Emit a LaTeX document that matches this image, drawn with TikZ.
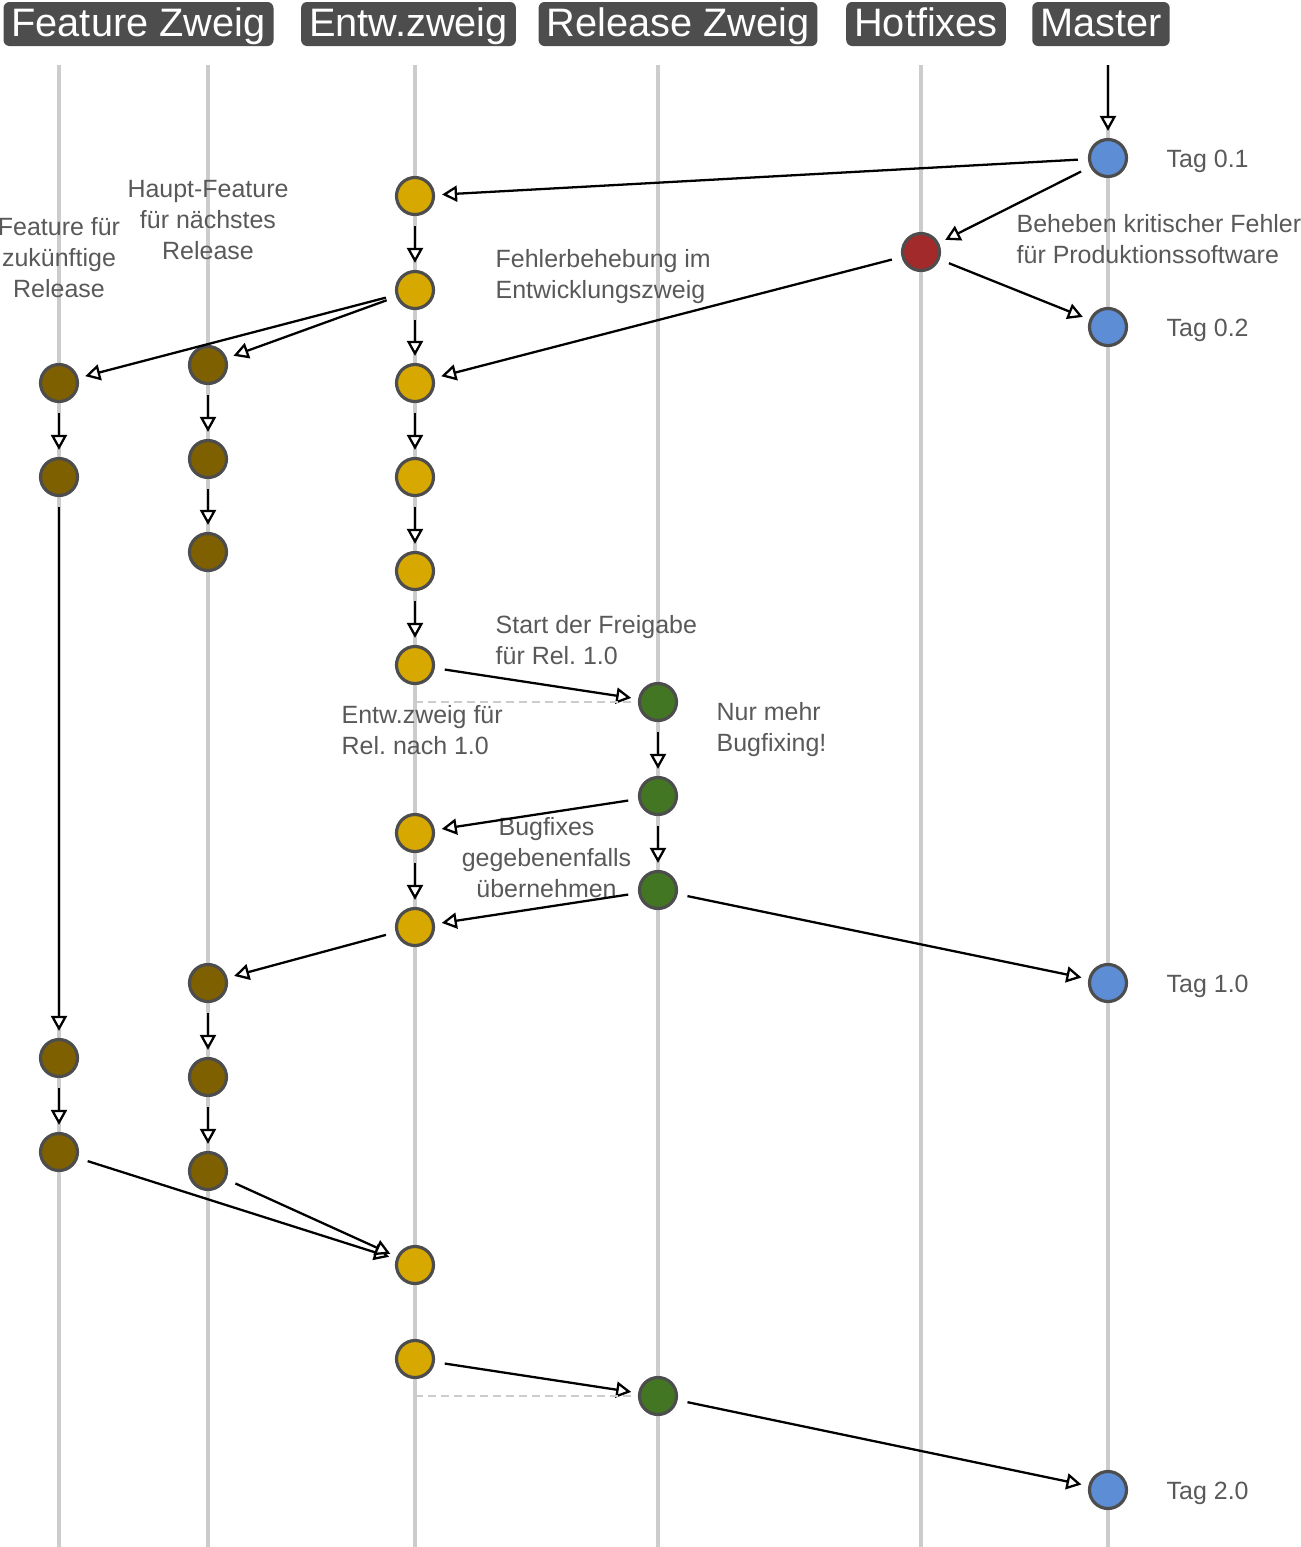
\documentclass[tikz,border=0pt]{standalone}
\usepackage{fontspec}
\setmainfont{Liberation Sans}
\usetikzlibrary{arrows.meta, positioning, calc}

\definecolor{hdrgray}{RGB}{77,77,77}
\definecolor{lanegray}{RGB}{204,204,204}
\definecolor{ringgray}{RGB}{77,77,77}
\definecolor{notegray}{RGB}{89,89,89}
\definecolor{devyellow}{RGB}{214,168,0}
\definecolor{featbrown}{RGB}{127,96,0}
\definecolor{relgreen}{RGB}{67,118,35}
\definecolor{hotred}{RGB}{163,42,42}
\definecolor{mastblue}{RGB}{93,141,213}

\begin{document}
\frenchspacing
\begin{tikzpicture}[x=0.01cm, y=-0.01cm]
    \tikzstyle{header} = [fill=hdrgray, text=white, rounded corners=0.06cm, text height=0.305cm, text depth=0.065cm, inner xsep=0.08cm, inner ysep=0.035cm, font=\fontsize{11.3}{13}\selectfont]
    \tikzstyle{lane} = [draw=lanegray, line width=0.9pt]
    \tikzstyle{commit} = [draw=ringgray, circle, line width=0.9pt, minimum size=0.37cm, inner sep=0pt]
    \tikzstyle{dev} = [commit, fill=devyellow]
    \tikzstyle{feat} = [commit, fill=featbrown]
    \tikzstyle{rel} = [commit, fill=relgreen]
    \tikzstyle{hotfix} = [commit, fill=hotred]
    \tikzstyle{master} = [commit, fill=mastblue]
    \tikzstyle{note} = [text=notegray, font=\fontsize{7.1}{8.8}\selectfont, inner sep=0pt]
    \tikzstyle{flow} = [-{Triangle[length=0.15cm, width=0.16cm, fill=white]}, line width=0.65pt, shorten <=0.1cm, shorten >=0.07cm]
    \tikzstyle{branchoff} = [draw=lanegray, line width=0.75pt, dash pattern=on 0.08cm off 0.05cm, shorten >=0.03cm]

    \useasboundingbox (0,0) rectangle (1301,1547);

    % lane headers
    \node[header] (hfeat) at (138.5,24) {Feature Zweig};
    \node[header] (hdev) at (408.5,24) {Entw.zweig};
    \node[header] (hrel) at (678,24) {Release Zweig};
    \node[header] (hhot) at (926,24) {Hotfixes};
    \node[header] (hmast) at (1101,24) {Master};

    % lanes
    \foreach \x in {59,208,415,658,921,1108}
        \draw[lane] (\x,65) -- (\x,1547);

    % master
    \coordinate (mtop) at (1108,65);
    \node[master] (m1) at (1108,158) {};
    \node[master] (m2) at (1108,327) {};
    \node[master] (m3) at (1108,983) {};
    \node[master] (m4) at (1108,1490) {};

    % hotfix
    \node[hotfix] (hf) at (921,252) {};

    % development
    \node[dev] (d1) at (415,196) {};
    \node[dev] (d2) at (415,290) {};
    \node[dev] (d3) at (415,383) {};
    \node[dev] (d4) at (415,477) {};
    \node[dev] (d5) at (415,571) {};
    \node[dev] (d6) at (415,665) {};
    \node[dev] (d7) at (415,833) {};
    \node[dev] (d8) at (415,927) {};
    \node[dev] (d9) at (415,1265) {};
    \node[dev] (d10) at (415,1359) {};

    % release
    \node[rel] (r1) at (658,702) {};
    \node[rel] (r2) at (658,796) {};
    \node[rel] (r3) at (658,890) {};
    \node[rel] (r4) at (658,1396) {};

    % features
    \node[feat] (fa1) at (59,383) {};
    \node[feat] (fa2) at (59,477) {};
    \node[feat] (fa3) at (59,1058) {};
    \node[feat] (fa4) at (59,1152) {};
    \node[feat] (fb1) at (208,365) {};
    \node[feat] (fb2) at (208,459) {};
    \node[feat] (fb3) at (208,552) {};
    \node[feat] (fb4) at (208,983) {};
    \node[feat] (fb5) at (208,1077) {};
    \node[feat] (fb6) at (208,1171) {};

    % labels
    \node[note, anchor=west] (t01) at (1166,161) {Tag 0.1};
    \node[note, anchor=west] (t02) at (1166,330) {Tag 0.2};
    \node[note, anchor=west] (t10) at (1166,986) {Tag 1.0};
    \node[note, anchor=west] (t20) at (1166,1493) {Tag 2.0};
    \node[note, align=center] (lhaupt) at (208,220) {Haupt-Feature\\für nächstes\\Release};
    \node[note, align=center] (lfuture) at (59,258) {Feature für\\zukünftige\\Release};
    \node[note, align=left, anchor=west] (lhotfix) at (1016,239) {Beheben kritischer Fehler\\für Produktionssoftware};
    \node[note, align=left, anchor=west] (lbugdev) at (495,277) {Fehlerbehebung im\\Entwicklungszweig};
    \node[note, align=left, anchor=west] (lstart) at (495,640) {Start der Freigabe\\für Rel. 1.0};
    \node[note, align=left, anchor=west] (lnext) at (341,730) {Entw.zweig für\\Rel. nach 1.0};
    \node[note, align=left, anchor=west] (lonly) at (716,730) {Nur mehr\\Bugfixing!};
    \node[note, align=center] (ltake) at (546.5,858) {Bugfixes\\gegebenenfalls\\übernehmen};

    % merges and branches
    \draw[flow, shorten <=0pt] (mtop) -- (m1);
    \draw[flow] (m1) -- (d1);
    \draw[flow] (m1) -- (hf);
    \draw[flow] (hf) -- (m2);
    \draw[flow] (hf) -- (d3);
    \draw[flow] (d1) -- (d2);
    \draw[flow] (d2) -- (d3);
    \draw[flow] (d3) -- (d4);
    \draw[flow] (d4) -- (d5);
    \draw[flow] (d5) -- (d6);
    \draw[flow] (d2) -- (fa1);
    \draw[flow] (d2) -- (fb1);
    \draw[flow] (fa1) -- (fa2);
    \draw[flow] (fb1) -- (fb2);
    \draw[flow] (fb2) -- (fb3);
    \draw[flow] (d6) -- (r1);
    \draw[branchoff] (d6 |- r1) -- (r1);
    \draw[flow] (r1) -- (r2);
    \draw[flow] (r2) -- (r3);
    \draw[flow] (r2) -- (d7);
    \draw[flow] (r3) -- (d8);
    \draw[flow] (d7) -- (d8);
    \draw[flow] (r3) -- (m3);
    \draw[flow] (d8) -- (fb4);
    \draw[flow] (fa2) -- (fa3);
    \draw[flow] (fb4) -- (fb5);
    \draw[flow] (fb5) -- (fb6);
    \draw[flow] (fa3) -- (fa4);
    \draw[flow] (fa4) -- (d9);
    \draw[flow] (fb6) -- (d9);
    \draw[flow] (d10) -- (r4);
    \draw[branchoff] (d10 |- r4) -- (r4);
    \draw[flow] (r4) -- (m4);
\end{tikzpicture}
\end{document}
